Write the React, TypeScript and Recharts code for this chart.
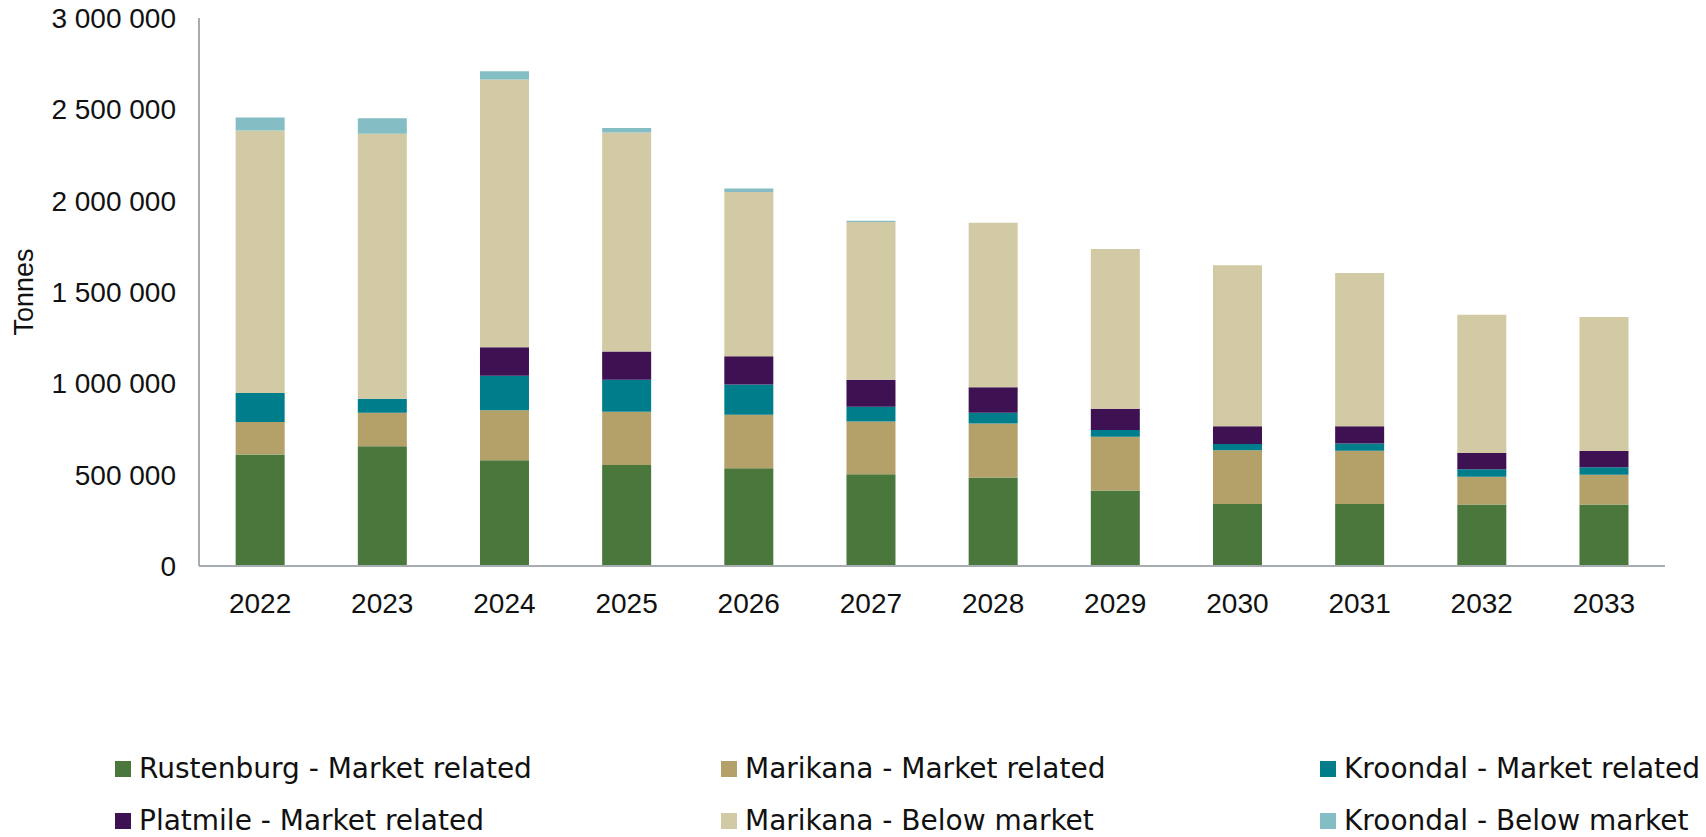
import { BarChart, Bar, XAxis, YAxis, Legend } from 'recharts'

const years = ['2022', '2023', '2024', '2025', '2026', '2027', '2028', '2029', '2030', '2031', '2032', '2033']

// tonnes
const rustenburgMarket = [610000, 656000, 579000, 553000, 535000, 502000, 485000, 414000, 340000, 339000, 336000, 336000]
const marikanaMarket = [179000, 183000, 273000, 291000, 293000, 289000, 295000, 293000, 293000, 292000, 153000, 164000]
const kroondalMarket = [158000, 76000, 189000, 176000, 165000, 81000, 59000, 37000, 35000, 39000, 40000, 40000]
const platmileMarket = [0, 0, 156000, 154000, 155000, 148000, 139000, 117000, 97000, 95000, 90000, 90000]
const marikanaBelow = [1437000, 1452000, 1467000, 1199000, 900000, 863000, 901000, 875000, 881000, 839000, 757000, 733000]
const kroondalBelow = [71000, 84000, 44000, 25000, 18000, 7000, 0, 0, 0, 0, 0, 0]

const yTicks = [0, 500000, 1000000, 1500000, 2000000, 2500000, 3000000]

const series = [
  { key: 'rustenburgMarket', name: 'Rustenburg - Market related', color: '#4a773c', values: rustenburgMarket },
  { key: 'marikanaMarket', name: 'Marikana - Market related', color: '#b4a16a', values: marikanaMarket },
  { key: 'kroondalMarket', name: 'Kroondal - Market related', color: '#007d8a', values: kroondalMarket },
  { key: 'platmileMarket', name: 'Platmile - Market related', color: '#3d1152', values: platmileMarket },
  { key: 'marikanaBelow', name: 'Marikana - Below market', color: '#d2c9a5', values: marikanaBelow },
  { key: 'kroondalBelow', name: 'Kroondal - Below market', color: '#84bec4', values: kroondalBelow },
]

const data = years.map((year, i) => {
  const row: Record<string, string | number> = { year }
  series.forEach(s => { row[s.key] = s.values[i] })
  return row
})

const tickFont = '"Liberation Sans", Arial, sans-serif'
const legendFont = '"DejaVu Sans", sans-serif'
const axisColor = '#a7acb1'
const tickStyle = { fill: '#111', fontSize: 28, fontFamily: tickFont }

const fmt = (v: number) => String(v).replace(/\B(?=(\d{3})+(?!\d))/g, ' ')

const legendCols = [115, 721, 1320]

function ChartLegend() {
  return (
    <div style={{ position: 'relative', width: 1706, height: 87, fontFamily: legendFont, fontSize: 28, lineHeight: '28px', color: '#111' }}>
      {series.map((s, i) => (
        <div
          key={s.key}
          style={{
            position: 'absolute',
            left: legendCols[i % 3],
            top: i < 3 ? 5 : 57,
            height: 28,
            display: 'flex',
            alignItems: 'center',
            whiteSpace: 'nowrap',
          }}
        >
          <span style={{ width: 16, height: 16, background: s.color, marginRight: 8, display: 'inline-block' }} />
          {s.name}
        </div>
      ))}
    </div>
  )
}

export default function App() {
  return (
    <div style={{ width: 1706, height: 837, overflow: 'hidden', background: '#fff' }}>
      <style>{'body{margin:0}'}</style>
      <BarChart
        width={1706}
        height={837}
        data={data}
        margin={{ top: 18, right: 41, bottom: 0, left: 0 }}
        barCategoryGap="30%"
      >
        <XAxis
          dataKey="year"
          axisLine={{ stroke: axisColor, strokeWidth: 2 }}
          tickLine={false}
          tick={tickStyle}
          tickMargin={21}
          height={184}
        />
        <YAxis
          domain={[0, 3000000]}
          ticks={yTicks}
          tickFormatter={fmt}
          axisLine={{ stroke: axisColor, strokeWidth: 2 }}
          tickLine={false}
          tick={tickStyle}
          tickMargin={17}
          width={199}
          label={{ value: 'Tonnes', angle: -90, position: 'insideLeft', offset: 23, style: { fill: '#111', fontSize: 27, fontFamily: tickFont, textAnchor: 'middle' } }}
        />
        <Legend
          verticalAlign="bottom"
          content={() => <ChartLegend />}
          wrapperStyle={{ left: 0, bottom: 0, width: 1706, height: 87 }}
        />
        {series.map(s => (
          <Bar key={s.key} dataKey={s.key} name={s.name} stackId="a" fill={s.color} isAnimationActive={false} />
        ))}
      </BarChart>
    </div>
  )
}
